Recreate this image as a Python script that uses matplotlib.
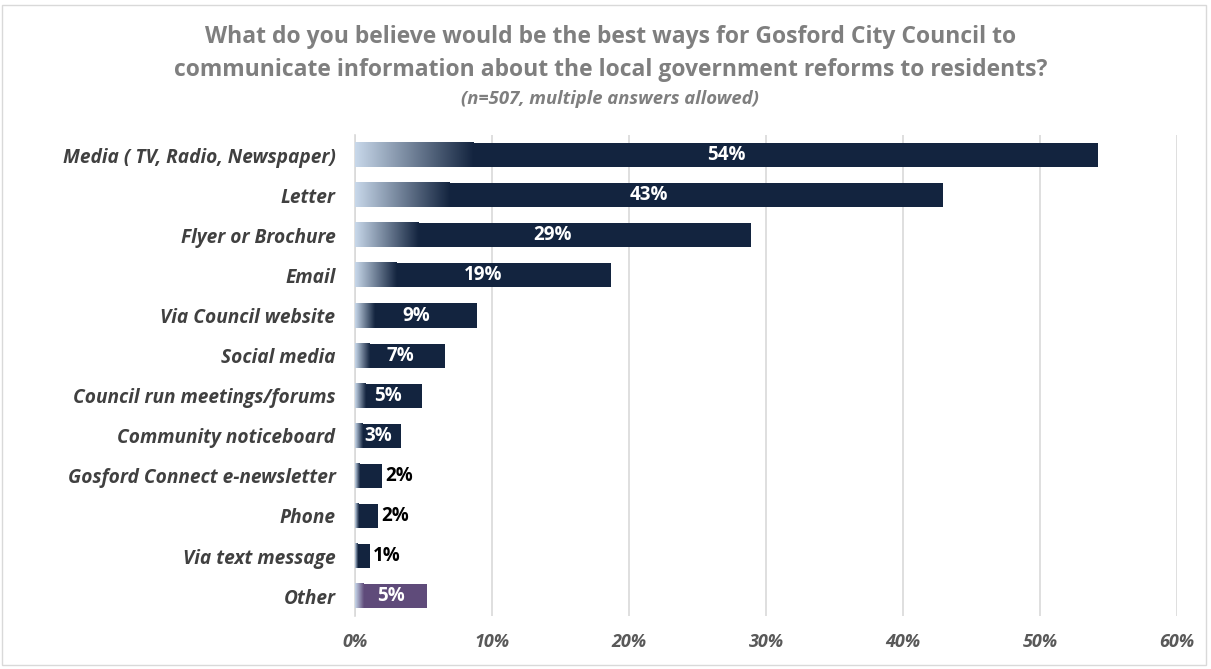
import numpy as np
import matplotlib
matplotlib.use('Agg')
import matplotlib.pyplot as plt
from matplotlib.colors import LinearSegmentedColormap
from matplotlib.patches import Rectangle

# datos
categorias = ['Media ( TV, Radio, Newspaper)', 'Letter', 'Flyer or Brochure', 'Email',
              'Via Council website', 'Social media', 'Council run meetings/forums',
              'Community noticeboard', 'Gosford Connect e-newsletter', 'Phone',
              'Via text message', 'Other']
valores = [54.2, 42.9, 28.9, 18.7, 8.9, 6.6, 4.9, 3.4, 2.0, 1.7, 1.1, 5.3]
etiquetas = ['54%', '43%', '29%', '19%', '9%', '7%', '5%', '3%', '2%', '2%', '1%', '5%']
ticks_x = [0, 10, 20, 30, 40, 50, 60]

NAVY = '#13243f'
PURPLE = '#5f4b7a'
LIGHT = '#c8d8ea'
GRIS_TITULO = '#7f7f7f'

plt.rcParams['font.family'] = ['Open Sans', 'DejaVu Sans']

fig = plt.figure(figsize=(12.11, 6.69), dpi=100)
ax = fig.add_axes([0.293, 0.079, 0.679, 0.719])

n = len(categorias)
y = np.arange(n)[::-1]
alto = 0.6

for i, (cat, v, lab) in enumerate(zip(categorias, valores, etiquetas)):
    yi = y[i]
    color = PURPLE if cat == 'Other' else NAVY
    ax.barh(yi, v, height=alto, color=color, zorder=2)
    # degradado en el inicio de la barra
    cmap = LinearSegmentedColormap.from_list('g', [LIGHT, color])
    ancho = v * 0.16 if cat != 'Other' else v * 0.12
    grad = np.linspace(0, 1, 256).reshape(1, -1)
    ax.imshow(grad, cmap=cmap, aspect='auto', zorder=3,
              extent=(0, ancho, yi - alto / 2, yi + alto / 2), interpolation='bicubic')
    if v < 2.5:
        ax.text(v + 0.25, yi, lab, ha='left', va='center', color='black',
                fontsize=13.5, fontweight='bold', zorder=4)
    else:
        ax.text(v / 2, yi, lab, ha='center', va='center', color='white',
                fontsize=13.5, fontweight='bold', zorder=4)

ax.set_xlim(0, 60)
ax.set_ylim(-0.5, n - 0.5)
ax.set_yticks(y)
ax.set_yticklabels(categorias, fontsize=13.8, fontweight='bold', fontstyle='italic', color='#404040')
ax.set_xticks(ticks_x)
ax.set_xticklabels([f'{t}%' for t in ticks_x], fontsize=13, fontweight='bold',
                   fontstyle='italic', color='#595959')
ax.tick_params(axis='both', length=0)
ax.tick_params(axis='x', pad=12)
ax.tick_params(axis='y', pad=14)
ax.grid(axis='x', color='#d9d9d9', linewidth=1.2, zorder=0)
for s in ['top', 'right', 'bottom']:
    ax.spines[s].set_visible(False)
ax.spines['left'].set_color('#d9d9d9')
ax.spines['left'].set_linewidth(1.2)

fig.text(0.504, 0.945, 'What do you believe would be the best ways for Gosford City Council to',
         ha='center', va='center', fontsize=16.5, fontweight='bold', color=GRIS_TITULO)
fig.text(0.504, 0.896, 'communicate information about the local government reforms to residents?',
         ha='center', va='center', fontsize=16.5, fontweight='bold', color=GRIS_TITULO)
fig.text(0.504, 0.852, '(n=507, multiple answers allowed)',
         ha='center', va='center', fontsize=13.3, fontweight='bold', fontstyle='italic',
         color=GRIS_TITULO)

fig.patches.append(Rectangle((0.002, 0.006), 0.994, 0.986, transform=fig.transFigure,
                             fill=False, edgecolor='#d9d9d9', linewidth=1))

fig.savefig('out.png', dpi=100)
